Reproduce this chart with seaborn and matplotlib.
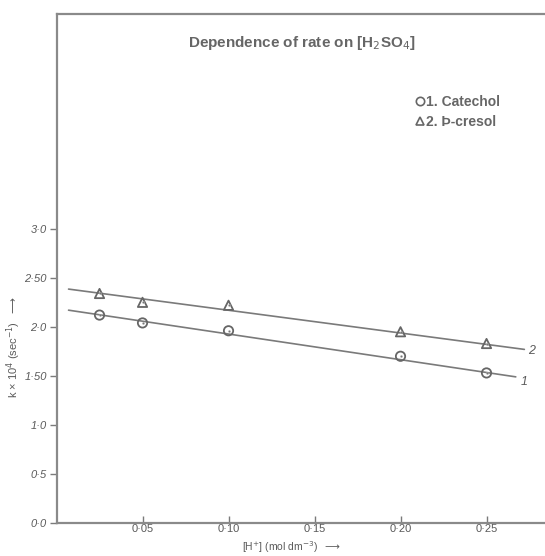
import matplotlib
matplotlib.use("Agg")
import matplotlib.pyplot as plt
import seaborn as sns
import pandas as pd
from matplotlib.lines import Line2D

# ---- data ----
h_conc = [0.025, 0.05, 0.10, 0.20, 0.25]
k_catechol = [2.12, 2.04, 1.96, 1.70, 1.53]
k_pcresol = [2.34, 2.25, 2.22, 1.95, 1.83]
fit_x = [0.007, 0.267]
fit_catechol = [2.17, 1.49]
fit_x2 = [0.007, 0.272]
fit_pcresol = [2.385, 1.77]
x_ticks = [0.05, 0.10, 0.15, 0.20, 0.25]
x_ticklabels = ["0·05", "0·10", "0·15", "0·20", "0·25"]
y_ticks = [0.0, 0.5, 1.0, 1.5, 2.0, 2.5, 3.0]
y_ticklabels = ["0·0", "0·5", "1·0", "1·50", "2·0", "2·50", "3·0"]

sns.set_theme(style="white")
plt.rcParams['font.family'] = ['Liberation Sans', 'DejaVu Sans']

fig = plt.figure(figsize=(5.45, 5.56), dpi=100)
ax = fig.add_axes([0.1037, 0.0594, 0.8963, 0.9154])

gray_line = "#7a7a7a"
gray_text = "#5a5a5a"

df_pts = pd.DataFrame({"x": h_conc * 2,
                       "k": k_catechol + k_pcresol,
                       "s": ["Catechol"] * 5 + ["p-cresol"] * 5})

sns.lineplot(x=fit_x, y=fit_catechol, ax=ax, color=gray_line, lw=1.2)
sns.lineplot(x=fit_x2, y=fit_pcresol, ax=ax, color=gray_line, lw=1.2)

sns.scatterplot(data=df_pts, x="x", y="k", style="s", markers={"Catechol": "o", "p-cresol": "^"},
                ax=ax, s=45, facecolor="none", edgecolor="#666666", linewidth=1.3, legend=False, zorder=3)
sns.scatterplot(data=df_pts, x="x", y="k", ax=ax, s=3, color="#777777", legend=False, zorder=4)

ax.text(fit_x2[1] + 0.002, fit_pcresol[1] - 0.02, "2", fontsize=9, color=gray_text, va="center", style="italic")
ax.text(fit_x[1] + 0.003, fit_catechol[1] - 0.05, "1", fontsize=9, color=gray_text, va="center", style="italic")

ax.set_xlim(0, 0.284)
ax.set_ylim(0, 5.19)

ax.set_xticks(x_ticks)
ax.set_xticklabels(x_ticklabels, fontsize=8, color=gray_text)
ax.set_yticks(y_ticks)
ax.set_yticklabels(y_ticklabels, fontsize=8, color=gray_text, style="italic")
ax.tick_params(axis="x", direction="in", length=5, width=1, color=gray_line, pad=1)
ax.tick_params(axis="y", direction="out", length=5, width=1, color=gray_line, pad=2)
ax.xaxis.set_ticks_position("bottom")
ax.yaxis.set_ticks_position("left")

for side in ["left", "top", "bottom"]:
    ax.spines[side].set_color("#8a8a8a")
    ax.spines[side].set_linewidth(1.6)
ax.spines["right"].set_visible(False)

ax.set_xlabel("[H$^{+}$] (mol dm$^{-3}$)  $\\longrightarrow$", fontsize=7.5, color=gray_text)
ax.xaxis.set_label_coords(0.48, -0.031)
ax.set_ylabel("k × 10$^{4}$ (sec$^{-1}$)  $\\longrightarrow$", fontsize=8, color=gray_text)
ax.yaxis.set_label_coords(-0.068, 0.345)

ax.text(0.502, 0.944, "Dependence of rate on [H$_2$SO$_4$]", transform=ax.transAxes,
        ha="center", va="center", fontsize=11, fontweight="bold", color="#666666")

handles = [Line2D([], [], marker="o", ls="none", mfc="none", mec="#666666", ms=6, mew=1.2),
           Line2D([], [], marker="^", ls="none", mfc="none", mec="#666666", ms=6, mew=1.2)]
leg = ax.legend(handles, ["1. Catechol", "2. Þ-cresol"], loc="upper left",
                bbox_to_anchor=(0.71, 0.866), frameon=False, handlelength=0.6,
                handletextpad=0.15, labelspacing=0.45, prop={"size": 10, "weight": "bold"})
for t in leg.get_texts():
    t.set_color("#666666")

fig.savefig("out.png", dpi=100, facecolor="white")
